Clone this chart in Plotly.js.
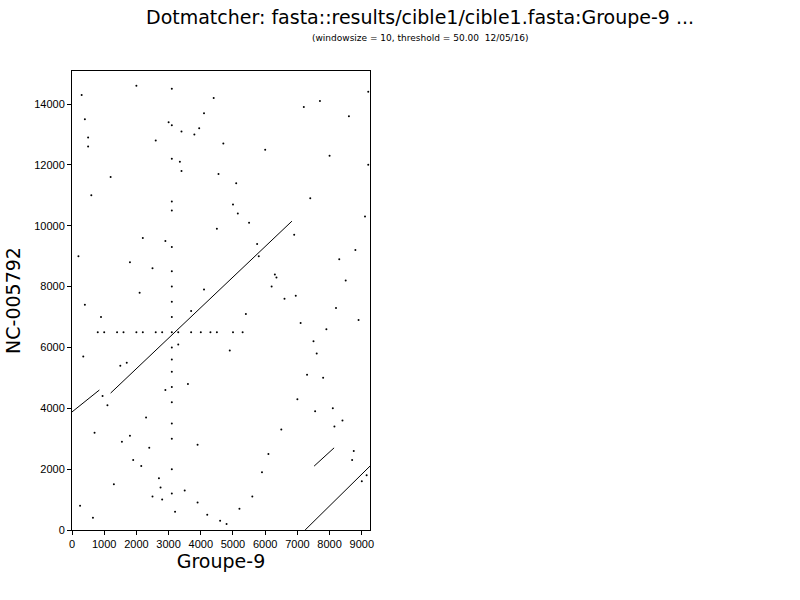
<!DOCTYPE html>
<html>
<head>
<script src="https://cdn.plot.ly/plotly-3.0.1.min.js"></script>
<style>body{margin:0;background:#fff}</style>
</head>
<body>
<div id="myDiv" style="width:800px;height:600px"></div>
<script>
// diagonal match segments (start/end in sequence coordinates)
var segX = [0, 850, null, 1200, 6830, null, 7240, 9255, null, 7520, 8140];
var segY = [3880, 4600, null, 4500, 10150, null, 0, 2100, null, 2100, 2700];

// scattered short matches
var dotX = [800,1000,1400,1600,2000,2200,2600,2800,3100,3300,3700,4000,4300,4500,5000,5300,
  3100,3100,3100,3100,3100,3100,3100,3100,3100,3100,3100,3100,3100,3100,3100,3100,3100,3100,3100,
  300,500,600,200,400,900,1500,1800,2400,2700,3500,3900,4200,4600,4800,5200,5600,5900,6100,6500,
  7000,7300,7600,7900,8200,8500,8800,9100,9200,400,700,1100,1700,2100,2500,2900,3400,3800,4100,
  4400,4700,5100,5500,5800,6200,6600,7100,7500,7800,8100,8400,8700,9000,250,650,1300,1900,2300,
  3600,4900,5400,6300,6900,7400,8000,8600,9200,500,1200,2000,2800,3200,3900,4500,5000,6000,7200,
  7700,8300,8900,350,950,1550,2150,2750,3350,3950,4550,5150,5750,6350,6950,7550,8150,8750,9150,
  2500,2900,3300,3700,4100,1800,2200,2600,3000,3400];
var dotY = [6500,6500,6500,6500,6500,6500,6500,6500,6500,6500,6500,6500,6500,6500,6500,6500,
  1200,2000,3000,3500,4200,4700,5200,5600,6000,7000,7500,8000,8500,9300,10500,10800,12200,13300,14500,
  14300,12600,11000,9000,7400,7000,5400,3100,2700,1700,1300,900,500,300,200,700,1100,1900,2500,3300,
  4300,5100,5800,6600,7300,8200,9200,10300,12000,13500,3200,4100,5500,7800,8600,9500,11800,13000,
  13700,14200,12700,11400,10100,9000,8000,7600,6800,6200,5000,4000,3600,2300,1600,800,400,1500,
  2300,3700,4800,5900,7100,8400,9700,10900,12300,13600,14400,12900,11600,14600,1000,600,2800,
  9900,10700,12500,13900,14100,8900,6900,5700,4400,2900,2100,1400,12100,13200,11700,10400,9400,
  8300,7700,3900,3400,2600,1800,1100,4600,6100,7200,7900,8800,9600,12800,13400,13100,7500,7700,
  7300,6900,7100];

var data = [
  {x: segX, y: segY, mode: 'lines', line: {color: '#000', width: 1}, hoverinfo: 'skip'},
  {x: dotX, y: dotY, mode: 'markers', marker: {color: '#000', size: 2}, hoverinfo: 'skip'}
];

var axisFont = {family: 'Liberation Sans, sans-serif', size: 11, color: '#000'};
var titleFont = {family: 'DejaVu Sans, sans-serif', size: 19, color: '#000'};

var layout = {
  width: 800, height: 600,
  showlegend: false,
  paper_bgcolor: '#fff', plot_bgcolor: '#fff',
  margin: {l: 72, r: 430, t: 71, b: 70},
  xaxis: {
    range: [0, 9255], showgrid: false, zeroline: false,
    showline: true, mirror: true, linecolor: '#000', linewidth: 1,
    ticks: 'outside', ticklen: 4, tickcolor: '#000', dtick: 1000, tickformat: 'd',
    tickfont: axisFont,
    title: {text: 'Groupe-9', font: titleFont, standoff: 4}
  },
  yaxis: {
    range: [0, 15085], showgrid: false, zeroline: false,
    showline: true, mirror: true, linecolor: '#000', linewidth: 1,
    ticks: 'outside', ticklen: 4, tickcolor: '#000', dtick: 2000, tickformat: 'd',
    tickfont: axisFont,
    title: {text: 'NC-005792', font: titleFont, standoff: 8}
  },
  annotations: [
    {text: 'Dotmatcher: fasta::results/cible1/cible1.fasta:Groupe-9 ...', xref: 'paper', yref: 'paper',
     x: (420 - 72)/298, xanchor: 'center', y: 1 + 54/459, yanchor: 'middle', showarrow: false,
     font: {family: 'DejaVu Sans, sans-serif', size: 19, color: '#000'}},
    {text: '(windowsize = 10, threshold = 50.00  12/05/16)', xref: 'paper', yref: 'paper',
     x: (420 - 72)/298, xanchor: 'center', y: 1 + 33/459, yanchor: 'middle', showarrow: false,
     font: {family: 'DejaVu Sans, sans-serif', size: 9, color: '#000'}}
  ]
};

Plotly.newPlot('myDiv', data, layout, {staticPlot: true});
</script>
</body>
</html>
